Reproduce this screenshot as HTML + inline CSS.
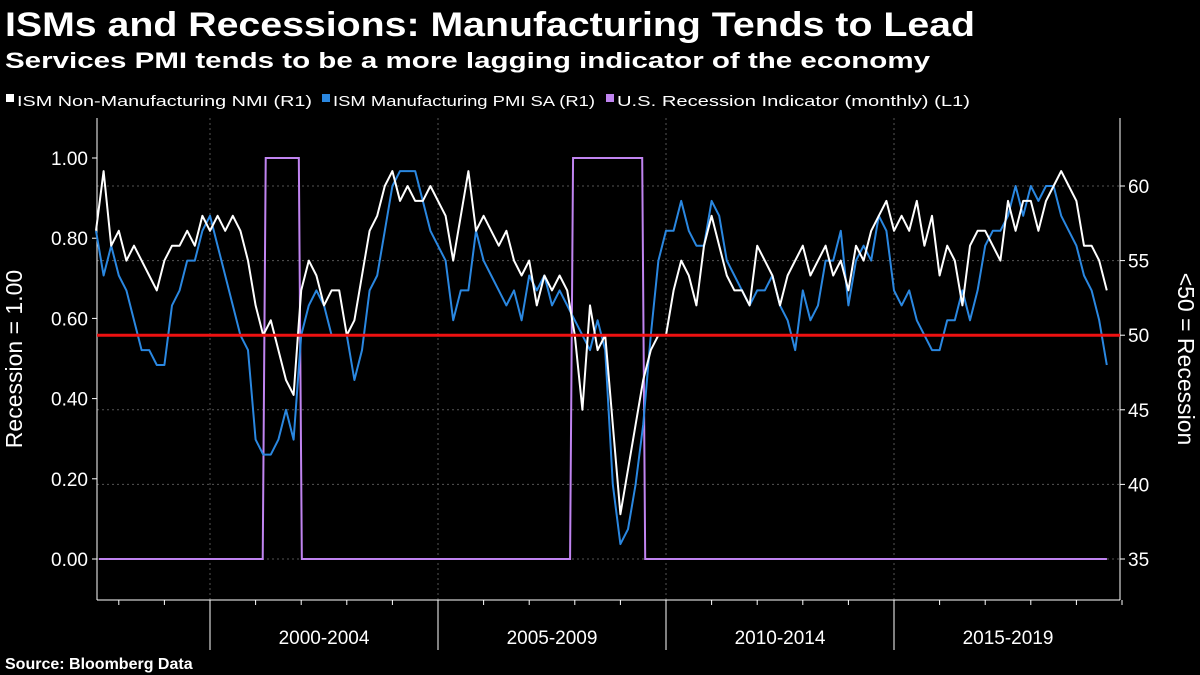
<!DOCTYPE html>
<html><head><meta charset="utf-8"><style>
html,body{margin:0;padding:0;background:#000;}
svg{display:block;font-family:"Liberation Sans",sans-serif;}
</style></head><body>
<svg id="chart" width="1200" height="675" viewBox="0 0 1200 675">
<rect width="1200" height="675" fill="#000"/>
<text x="5" y="36" fill="#fff" font-size="34" font-weight="bold" textLength="970" lengthAdjust="spacingAndGlyphs">ISMs and Recessions: Manufacturing Tends to Lead</text>
<text x="5" y="68" fill="#fff" font-size="22" font-weight="bold" textLength="925" lengthAdjust="spacingAndGlyphs">Services PMI tends to be a more lagging indicator of the economy</text>
<g font-size="15" fill="#fff">
<rect x="6" y="94" width="8" height="8" fill="#fff"/>
<text x="17" y="106" textLength="295" lengthAdjust="spacingAndGlyphs">ISM Non-Manufacturing NMI  (R1)</text>
<rect x="322" y="94" width="8" height="8" fill="#2a87e0"/>
<text x="333" y="106" textLength="262" lengthAdjust="spacingAndGlyphs">ISM Manufacturing PMI SA  (R1)</text>
<rect x="606" y="94" width="8" height="8" fill="#c084f0"/>
<text x="617" y="106" textLength="353" lengthAdjust="spacingAndGlyphs">U.S. Recession Indicator (monthly)  (L1)</text>
</g>
<g id="grid"></g>
<g id="axes"></g>
<g id="series"></g>
<text x="5" y="669" fill="#fff" font-size="16" font-weight="bold">Source: Bloomberg Data</text>
</svg>
<script>
const startYear = 1997.5;
const stepYears = 1/6;
const nmiValues = [57,61,56,
57,55,56,55,54,53,
55,56,56,57,56,58,
57,58,57,58,57,55,
52,50,51,49,47,46,
53,55,54,52,53,53,
50,51,54,57,58,60,
61,59,60,59,59,60,
59,58,55,58,61,57,
58,57,56,57,55,54,
55,52,54,53,54,53,
50,45,52,49,50,44,
38,41,44,47,49,50,
50,53,55,54,52,56,
58,56,54,53,53,52,
56,55,54,52,54,55,
56,54,55,56,54,55,
53,56,55,57,58,59,
57,58,57,59,56,58,
54,56,55,52,56,57,
57,56,55,59,57,59,
59,57,59,60,61,60,
59,56,56,55,53];
const pmiValues = [57,54,56,
54,53,51,49,49,48,
48,52,53,55,55,57,
58,56,54,52,50,49,
43,42,42,43,45,43,
50,52,53,52,50,50,
50,47,49,53,54,57,
60,61,61,61,59,57,
56,55,51,53,53,57,
55,54,53,52,53,51,
54,53,54,52,53,52,
51,50,49,51,49,40,
36,37,40,44,50,55,
57,57,59,57,56,56,
59,58,55,54,53,52,
53,53,54,52,51,49,
53,51,52,55,55,57,
52,55,56,55,58,57,
53,52,53,51,50,49,
49,51,51,53,51,53,
56,57,57,58,60,58,
60,59,60,60,58,57,
56,54,53,51,48];
const recessionStarts = [2001.2, 2007.94];
const recessionEnds = [2001.97, 2009.5];
const seriesEnd = 2019.67;
const leftTicks = ["0.00","0.20","0.40","0.60","0.80","1.00"];
const rightTicks = ["35","40","45","50","55","60"];
const periodLabels = ["2000-2004","2005-2009","2010-2014","2015-2019"];
const periodStarts = [2000,2005,2010,2015];
const threshold = 50;

const NS="http://www.w3.org/2000/svg";
const plotL=97, plotR=1120, plotT=118, plotB=600;
const xScale=t=>210+(t-2000)*45.6;
const yLeft=v=>559-v*401;
const yRight=v=>186+(60-v)*14.92;
function mk(tag,attrs,parent){const e=document.createElementNS(NS,tag);for(const k in attrs)e.setAttribute(k,attrs[k]);parent.appendChild(e);return e;}
const grid=document.getElementById('grid'), axes=document.getElementById('axes'), series=document.getElementById('series');

rightTicks.forEach(l=>{const y=yRight(+l);
 const g=mk('line',{x1:plotL,x2:plotR,y1:y,y2:y,stroke:'#555','stroke-dasharray':'2,3','stroke-width':1},grid);
 
 
 const t=mk('text',{x:1128,y:y+7,fill:'#fff','font-size':19},axes);t.textContent=l;
 
 
 const tk=mk('line',{x1:plotR,x2:plotR+5,y1:y,y2:y,stroke:'#fff'},axes);
 
 
});
periodStarts.forEach(p=>{const x=xScale(p);
 const g=mk('line',{x1:x,x2:x,y1:plotT,y2:plotB,stroke:'#555','stroke-dasharray':'2,3'},grid);
 
 
});
leftTicks.forEach(l=>{const y=yLeft(+l);
 const t=mk('text',{x:88,y:y+7,fill:'#fff','font-size':19,'text-anchor':'end'},axes);t.textContent=l;
 
 
 const tk=mk('line',{x1:plotL-5,x2:plotL,y1:y,y2:y,stroke:'#fff'},axes);
 
 
});
[[plotL,plotT,plotL,plotB],[plotR,plotT,plotR,plotB],[plotL,plotB,plotR,plotB]].forEach(a=>{
 const l=mk('line',{x1:a[0],y1:a[1],x2:a[2],y2:a[3],stroke:'#fff','stroke-width':1},axes);
 
 
});
for(let yr=1998;yr<=2020;yr++){const x=xScale(yr);
 const isMajor=periodStarts.includes(yr);
 const l=mk('line',{x1:x,x2:x,y1:plotB,y2:isMajor?650:plotB+5,stroke:'#fff'},axes);
 
 
}
periodLabels.forEach((lab,i)=>{const x=xScale(periodStarts[i]+2.5);
 const t=mk('text',{x:x,y:644,fill:'#fff','font-size':19,'text-anchor':'middle'},axes);t.textContent=lab;
 
 
});
const lt=mk('text',{transform:'translate(22,359) rotate(-90)',fill:'#fff','font-size':23,'text-anchor':'middle'},axes);lt.textContent='Recession = 1.00';


const rt=mk('text',{transform:'translate(1178,359) rotate(90)',fill:'#fff','font-size':23,'text-anchor':'middle'},axes);rt.textContent='<50 = Recession';



// recession step line
let rp=`M${plotL+2},${yLeft(0)}`;
recessionStarts.forEach((s,i)=>{rp+=` L${xScale(s)-2},${yLeft(0)} L${xScale(s)+1},${yLeft(1)} L${xScale(recessionEnds[i])-1},${yLeft(1)} L${xScale(recessionEnds[i])+2},${yLeft(0)}`;});
rp+=` L${xScale(seriesEnd)},${yLeft(0)}`;
const rec=mk('path',{d:rp,fill:'none',stroke:'#c084f0','stroke-width':2},series);



function linePath(vals){return vals.map((v,i)=>(i?'L':'M')+xScale(startYear+i*stepYears).toFixed(1)+','+yRight(v).toFixed(1)).join(' ');}
const pmi=mk('path',{d:linePath(pmiValues),fill:'none',stroke:'#2a87e0','stroke-width':2,'stroke-linejoin':'round'},series);


const nmi=mk('path',{d:linePath(nmiValues),fill:'none',stroke:'#fff','stroke-width':2,'stroke-linejoin':'round'},series);


const th=mk('line',{x1:plotL,x2:plotR,y1:yRight(threshold),y2:yRight(threshold),stroke:'#ee1111','stroke-width':3},series);


</script>
</body></html>
